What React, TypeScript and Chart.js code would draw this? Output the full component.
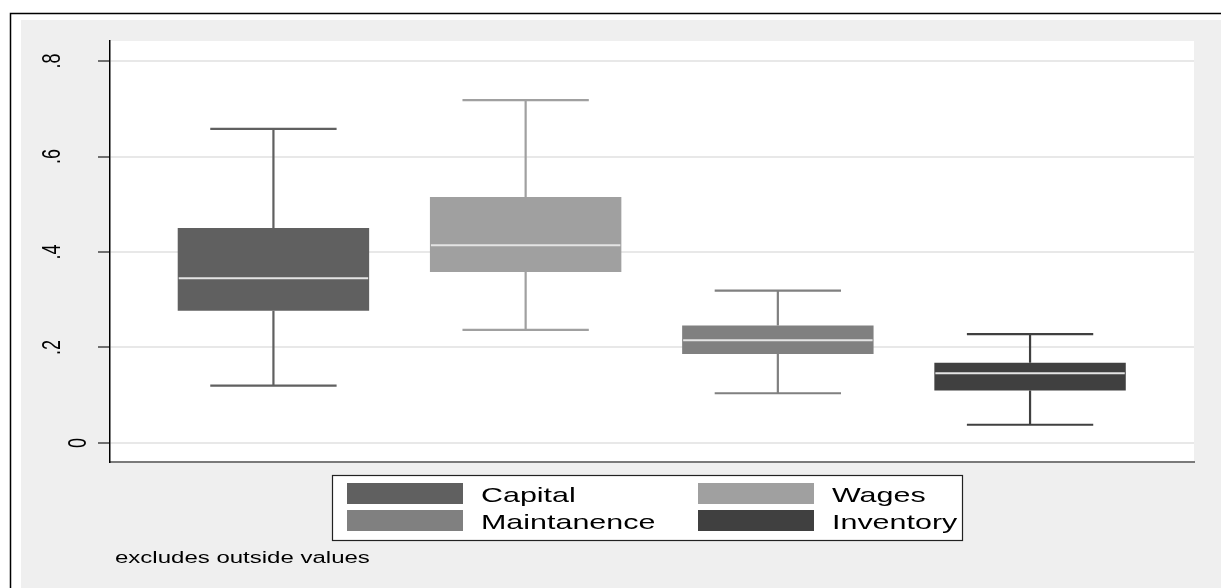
import React, { useEffect, useRef } from 'react';
import { Chart, registerables } from 'chart.js';

Chart.register(...registerables);

// ---- data ----
const CATEGORIES = ['Capital', 'Wages', 'Maintanence', 'Inventory'];
const POSITIONS = [1, 2, 3, 4];
const WHISKER_LOW = [0.12, 0.237, 0.104, 0.038];
const Q1 = [0.277, 0.358, 0.186, 0.11];
const MEDIAN = [0.345, 0.414, 0.215, 0.146];
const Q3 = [0.45, 0.515, 0.246, 0.168];
const WHISKER_HIGH = [0.658, 0.718, 0.319, 0.228];
const COLORS = ['#606060', '#a0a0a0', '#808080', '#404040'];
const Y_TICKS = [0, 0.2, 0.4, 0.6, 0.8];
const Y_TICK_LABELS = ['0', '.2', '.4', '.6', '.8'];
const NOTE = 'excludes outside values';

const FONT = '"Liberation Sans", Arial, Helvetica, sans-serif';
const STRETCH = 1.45;

const framePlugin = {
  id: 'stataFrame',
  beforeDraw(chart: any) {
    const { ctx, chartArea: a, width, height } = chart;
    ctx.save();
    ctx.fillStyle = '#ffffff';
    ctx.fillRect(0, 0, width, height);
    ctx.fillStyle = '#efefef';
    ctx.fillRect(21, 20, width - 21, height - 20);
    ctx.strokeStyle = '#000000';
    ctx.lineWidth = 1.5;
    ctx.beginPath();
    ctx.moveTo(10.5, height);
    ctx.lineTo(10.5, 13.5);
    ctx.lineTo(width, 13.5);
    ctx.stroke();
    ctx.fillStyle = '#ffffff';
    ctx.fillRect(a.left, a.top, a.right - a.left, a.bottom - a.top);
    ctx.restore();
  },
};

const boxPlugin = {
  id: 'boxWhiskers',
  afterDatasetsDraw(chart: any) {
    const { ctx } = chart;
    const yScale = chart.scales.y;
    ctx.save();
    chart.data.datasets.forEach((ds: any, i: number) => {
      const meta = chart.getDatasetMeta(i);
      const bar = meta.data[0];
      if (!bar) return;
      const { x, width } = bar.getProps(['x', 'width'], true);
      const yHi = yScale.getPixelForValue(WHISKER_HIGH[i]);
      const yLo = yScale.getPixelForValue(WHISKER_LOW[i]);
      const yQ3 = yScale.getPixelForValue(Q3[i]);
      const yQ1 = yScale.getPixelForValue(Q1[i]);
      const yMed = yScale.getPixelForValue(MEDIAN[i]);
      const capHalf = width * 0.33;
      ctx.strokeStyle = COLORS[i];
      ctx.lineWidth = 2.2;
      ctx.beginPath();
      ctx.moveTo(x, yQ3);
      ctx.lineTo(x, yHi);
      ctx.moveTo(x - capHalf, yHi);
      ctx.lineTo(x + capHalf, yHi);
      ctx.moveTo(x, yQ1);
      ctx.lineTo(x, yLo);
      ctx.moveTo(x - capHalf, yLo);
      ctx.lineTo(x + capHalf, yLo);
      ctx.stroke();
      ctx.strokeStyle = '#e4e4e4';
      ctx.lineWidth = 2;
      ctx.beginPath();
      ctx.moveTo(x - width / 2 + 1, yMed);
      ctx.lineTo(x + width / 2 - 1, yMed);
      ctx.stroke();
    });
    ctx.restore();
  },
};

function stretchedText(ctx: CanvasRenderingContext2D, text: string, x: number, y: number, sx: number) {
  ctx.save();
  ctx.translate(x, y);
  ctx.scale(sx, 1);
  ctx.fillText(text, 0, 0);
  ctx.restore();
}

const annotationsPlugin = {
  id: 'stataText',
  afterDraw(chart: any) {
    const { ctx } = chart;
    const yScale = chart.scales.y;
    ctx.save();
    // rotated y tick labels
    ctx.fillStyle = '#000000';
    ctx.font = `18px ${FONT}`;
    Y_TICKS.forEach((v, i) => {
      const label = Y_TICK_LABELS[i];
      const py = yScale.getPixelForValue(v);
      const bx = label === '0' ? 86 : 60;
      ctx.save();
      ctx.translate(bx, py);
      ctx.scale(STRETCH, 1);
      ctx.rotate(-Math.PI / 2);
      ctx.textAlign = 'center';
      ctx.textBaseline = 'alphabetic';
      ctx.fillText(label, 0, 0);
      ctx.restore();
    });

    // legend
    const lx = 332, ly = 475, lw = 630, lh = 65;
    ctx.fillStyle = '#ffffff';
    ctx.fillRect(lx, ly, lw, lh);
    ctx.strokeStyle = '#222222';
    ctx.lineWidth = 1.2;
    ctx.strokeRect(lx + 0.5, ly + 0.5, lw, lh);
    const colX = [347, 698];
    const rowY = [483, 510];
    ctx.font = `21px ${FONT}`;
    ctx.textAlign = 'left';
    ctx.textBaseline = 'alphabetic';
    chart.data.datasets.forEach((ds: any, i: number) => {
      const cx = colX[i % 2];
      const ry = rowY[Math.floor(i / 2)];
      ctx.fillStyle = ds.backgroundColor;
      ctx.fillRect(cx, ry, 116, 21);
      ctx.fillStyle = '#000000';
      stretchedText(ctx, ds.label, cx + 134, ry + 19, STRETCH);
    });

    // note
    ctx.font = `16px ${FONT}`;
    ctx.fillStyle = '#000000';
    stretchedText(ctx, NOTE, 115, 563, 1.5);
    ctx.restore();
  },
};

export default function App() {
  const ref = useRef<HTMLCanvasElement>(null);
  useEffect(() => {
    document.body.style.margin = '0';
    const canvas = ref.current;
    if (!canvas) return;
    const chart = new Chart(canvas, {
      type: 'bar',
      data: {
        datasets: CATEGORIES.map((name, i) => ({
          label: name,
          data: [{ x: POSITIONS[i], y: [Q1[i], Q3[i]] }],
          backgroundColor: COLORS[i],
          borderWidth: 0,
          grouped: false,
          categoryPercentage: 1,
          barPercentage: 0.759,
        })) as any,
      },
      options: {
        animation: false,
        responsive: false,
        devicePixelRatio: 1,
        layout: { padding: { left: 0, top: 41, right: 27, bottom: 126 } },
        plugins: {
          legend: { display: false },
          tooltip: { enabled: false },
        },
        scales: {
          x: {
            type: 'linear',
            offset: false,
            min: 0.352,
            max: 4.65,
            afterBuildTicks: (scale: any) => {
              scale.ticks = POSITIONS.map((v) => ({ value: v }));
            },
            afterFit: (scale: any) => {
              scale.height = 0;
            },
            ticks: { display: false },
            grid: { display: false, drawTicks: false, offset: false },
            border: { display: true, color: '#7a7a7a', width: 2 },
          },
          y: {
            type: 'linear',
            min: -0.04,
            max: 0.842,
            afterBuildTicks: (scale: any) => {
              scale.ticks = Y_TICKS.map((v) => ({ value: v }));
            },
            afterFit: (scale: any) => {
              scale.width = 110;
            },
            ticks: { display: false },
            grid: {
              display: true,
              color: '#e8e8e8',
              lineWidth: 2,
              drawTicks: true,
              tickLength: 12,
              tickColor: '#444444',
              tickWidth: 1.5,
            },
            border: { display: true, color: '#000000', width: 1.5 },
          },
        },
      } as any,
      plugins: [framePlugin, boxPlugin, annotationsPlugin],
    });
    return () => chart.destroy();
  }, []);
  return (
    <div style={{ width: 1221, height: 588 }}>
      <canvas ref={ref} width={1221} height={588} style={{ display: 'block' }} />
    </div>
  );
}
